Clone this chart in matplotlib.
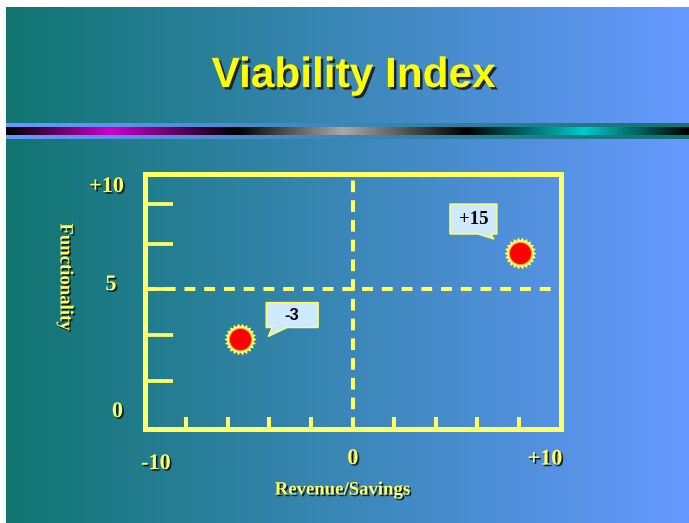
import numpy as np
import matplotlib
matplotlib.use("Agg")
import matplotlib.pyplot as plt
import matplotlib.patheffects as pe
import matplotlib.transforms as mtransforms
from matplotlib.path import Path
from matplotlib.patches import Polygon

# ---------------- data ----------------
point_x = [-5.4, 8.05]
point_y = [2.8, 6.6]
point_labels = ["-3", "+15"]
x_minor_ticks = [-8, -6, -4, -2, 2, 4, 6, 8]
y_minor_ticks = [0.9, 2.95, 5, 7, 8.8]
x_tick_labels = ["-10", "0", "+10"]
x_tick_values = [-9.45, 0.02, 9.25]
y_tick_labels = ["0", "5", "+10"]
x_divider = 0
y_divider = 5
title = "Viability Index"
xlabel = "Revenue/Savings"
ylabel = "Functionality"

# ---------------- style ----------------
W, H = 689, 523
Y = "#ffff66"
TEAL = np.array([16, 117, 112]) / 255
BLUE = np.array([102, 153, 255]) / 255

fig = plt.figure(figsize=(W / 100, H / 100), dpi=100, facecolor="white")


def fx(px):
    return px / W


def fy(py):
    return 1 - py / H


# background
bg = fig.add_axes([0, 0, 1, 1])
bg.set_xlim(0, W)
bg.set_ylim(H, 0)
bg.axis("off")
t = np.linspace(0, 1, 512)[:, None]
grad = (TEAL * (1 - t) + BLUE * t)[None, :, :]
bg.imshow(grad, extent=(6, W, H, 7), aspect="auto", interpolation="bilinear")
rgrad = grad[:, ::-1, :]
bg.imshow(rgrad, extent=(6, W, 139, 123), aspect="auto", interpolation="bilinear")
# stripe
xs = np.linspace(6, W, 683)
stops = [6, 110, 237, 343, 466, 584, W]
cols = np.array([[0, 0, 0], [204, 0, 204], [0, 0, 0], [170, 170, 170],
                 [0, 0, 0], [0, 204, 204], [0, 0, 0]]) / 255
stripe = np.stack([np.interp(xs, stops, cols[:, k]) for k in range(3)], axis=1)[None, :, :]
bg.imshow(stripe, extent=(6, W, 135, 127), aspect="auto", interpolation="bilinear")
bg.set_xlim(0, W)
bg.set_ylim(H, 0)

# title
fig.text(fx(354), fy(87), title, ha="center", va="baseline", fontsize=30.5,
         fontweight="bold", family="Liberation Sans", color="#ffff00",
         path_effects=[pe.SimplePatchShadow(offset=(1.8, -1.8), shadow_rgbFace="#1a1a1a", alpha=0.9),
                       pe.Normal()])

# main axes
left, right, top, bottom = 144.5, 560.5, 174.5, 429
ax = fig.add_axes([fx(left), fy(bottom), (right - left) / W, (bottom - top) / H])
ax.set_facecolor("none")
ax.set_xlim(-10, 10)
ax.set_ylim(-1.22, 10.09)
for s in ax.spines.values():
    s.set_color(Y)
    s.set_linewidth(3.6)
    s.set_capstyle("projecting")
ax.set_xticks(x_minor_ticks)
ax.set_yticks(y_minor_ticks)
ax.tick_params(axis="x", direction="in", length=8.6, width=2.9, color=Y,
               labelbottom=False)
ax.tick_params(axis="y", direction="in", length=20, width=2.7, color=Y,
               labelleft=False)

ax.axvline(x_divider, color=Y, lw=2.9, dashes=(2.9, 2.0), dash_capstyle="butt")
ax.plot([-10, 9.64], [y_divider, y_divider], color=Y, lw=2.9, dashes=(2.7, 2.2),
        dash_capstyle="butt")

# starburst points
n = 22
ang = np.linspace(0, 2 * np.pi, 2 * n, endpoint=False)
rad = np.where(np.arange(2 * n) % 2 == 0, 1.0, 0.82)
verts = np.column_stack([rad * np.cos(ang), rad * np.sin(ang)])
verts = np.vstack([verts, verts[:1]])
star = Path(verts, closed=True)
ax.plot(point_x, point_y, ls="none", marker=star, ms=23, mfc=Y, mec="none",
        zorder=5)
ax.plot(point_x, point_y, ls="none", marker="o", ms=16, mfc="#ff0000",
        mec="#ff9933", mew=0.8, zorder=6)

# callouts (pixel offsets from the point, y up)
callout_shapes = [
    [(26, 11), (32, 11), (28, 2), (47, 11), (78, 11), (78, 36), (26, 36)],
    [(-70, 19), (-42, 19), (-26, 14), (-29, 19), (-23, 19), (-23, 49), (-70, 49)],
]
text_offsets = [(52, 23.5), (-46.5, 33.5)]
text_fams = ["Liberation Sans", "Liberation Serif"]
text_sizes = [12, 13.5]
for i, (x, y) in enumerate(zip(point_x, point_y)):
    trans = mtransforms.Affine2D() + mtransforms.ScaledTranslation(x, y, ax.transData)
    poly = Polygon(callout_shapes[i], closed=True, transform=trans, fc="#cfeaff",
                   ec=Y, lw=1.0, clip_on=False, zorder=7, joinstyle="miter")
    ax.add_patch(poly)
    ax.annotate(point_labels[i], xy=(x, y), xytext=text_offsets[i],
                textcoords="offset pixels", ha="center", va="center",
                fontsize=text_sizes[i], family=text_fams[i], fontweight="bold",
                color="black", zorder=8)

shadow = [pe.SimplePatchShadow(offset=(1.2, -1.2), shadow_rgbFace="#111111", alpha=0.9),
          pe.Normal()]
lab_kw = dict(family="Liberation Serif", fontweight="bold", color=Y,
              path_effects=shadow)

# x tick labels
xl_py = [464, 459, 459.5]
bt = mtransforms.blended_transform_factory(ax.transData, fig.transFigure)
for lab, xv, py in zip(x_tick_labels, x_tick_values, xl_py):
    ax.text(xv, fy(py), lab, transform=bt, ha="center", va="center",
            fontsize=16, **lab_kw)

# y tick labels
yl_pos = [(117.5, 412), (111, 285), (106.5, 187)]
for lab, (px, py) in zip(y_tick_labels, yl_pos):
    fig.text(fx(px), fy(py), lab, ha="center", va="center", fontsize=16, **lab_kw)

fig.text(fx(342.5), fy(490), xlabel, ha="center", va="center", fontsize=13.5,
         **lab_kw)
fig.text(fx(65), fy(277), ylabel, ha="center", va="center", rotation=-90,
         fontsize=13.5, **lab_kw)

fig.savefig("out.png", dpi=100, facecolor="white")
